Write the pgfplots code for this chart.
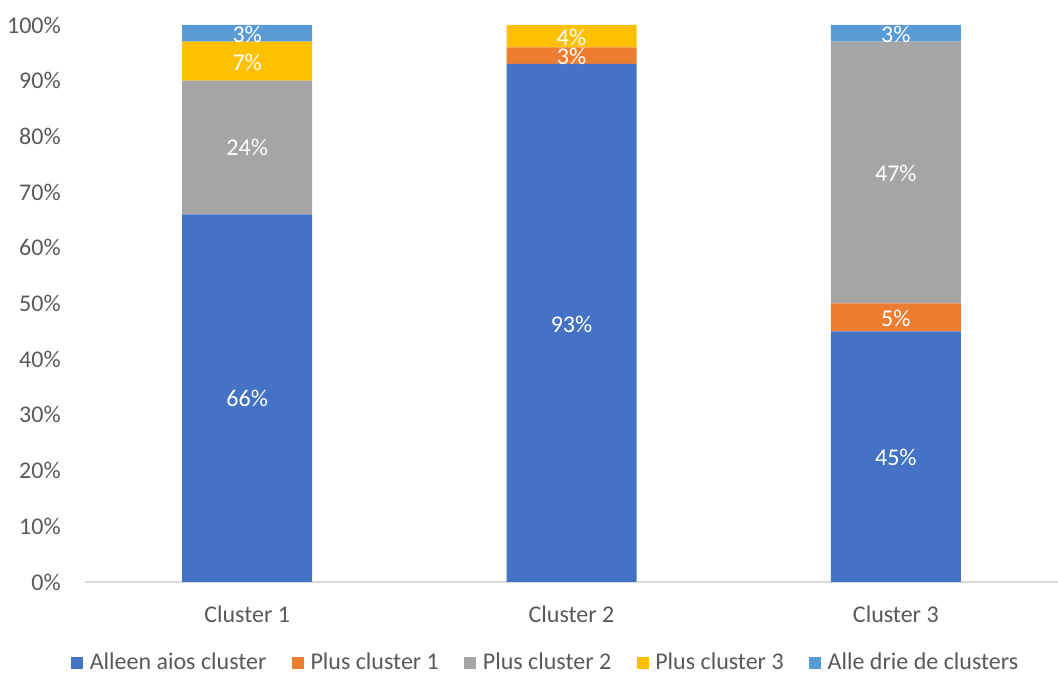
\documentclass[border=0pt]{standalone}
\usepackage{pgfplots}
\pgfplotsset{compat=1.18}
\usepackage{fontspec}
\setmainfont{Carlito}
\definecolor{cA}{HTML}{4472C4}
\definecolor{cB}{HTML}{ED7D31}
\definecolor{cC}{HTML}{A5A5A5}
\definecolor{cD}{HTML}{FFC000}
\definecolor{cE}{HTML}{5B9BD5}
\definecolor{tickgray}{HTML}{595959}
\definecolor{linegray}{HTML}{D9D9D9}
\begin{document}
\fontsize{18}{21}\selectfont
\begin{tikzpicture}
\pgfplotsset{common/.style={
  at={(0pt,0pt)}, anchor=south west,
  scale only axis, width=729.75pt, height=417.75pt,
  xmin=-0.5, xmax=2.5, ymin=0, ymax=100,
  /pgf/number format/assume math mode=true,
}}
\begin{axis}[common,
  ybar stacked, bar width=97.5pt,
  xtick={0,1,2}, xticklabels={Cluster 1,Cluster 2,Cluster 3},
  ytick={0,10,...,100}, yticklabel={\pgfmathprintnumber{\tick}\%},
  axis x line*=bottom, axis y line*=left,
  y axis line style={draw=none},
  x axis line style={draw=linegray, line width=0.8pt, -},
  major tick length=0pt,
  ticklabel style={font=\fontsize{18}{21}\selectfont, text=tickgray},
  xticklabel style={yshift=-12pt},
  yticklabel style={xshift=-12pt},
  legend style={at={(0.4738,-0.146)}, anchor=center, draw=none, fill=none,
    inner sep=1pt,
    font=\fontsize{18}{21}\selectfont, text=tickgray,
    legend columns=5,
    /tikz/every even column/.append style={column sep=17pt}},
  legend image code/.code={\fill[#1] (0pt,-4.5pt) rectangle (9pt,4.5pt); \path (0pt,0pt) -- (12pt,0pt);},
  legend cell align=left,
]
\addplot[fill=cA, draw=none] coordinates {(0,66) (1,93) (2,45)};
\addplot[fill=cB, draw=none] coordinates {(0,0) (1,3) (2,5)};
\addplot[fill=cC, draw=none] coordinates {(0,24) (1,0) (2,47)};
\addplot[fill=cD, draw=none] coordinates {(0,7) (1,4) (2,0)};
\addplot[fill=cE, draw=none] coordinates {(0,3) (1,0) (2,3)};
\legend{Alleen aios cluster, Plus cluster 1, Plus cluster 2, Plus cluster 3, Alle drie de clusters}
\end{axis}
\begin{axis}[common, hide axis]
\addplot[draw=none, mark=none, nodes near coords, point meta=explicit symbolic,
  every node near coord/.append style={anchor=center, text=white, font=\fontsize{18}{21}\selectfont}]
  coordinates {
  (0,33) [66\%] (0,78) [24\%] (0,93.3) [7\%] (0,98.3) [3\%]
  (1,46.3) [93\%] (1,94.3) [3\%] (1,97.8) [4\%]
  (2,22.3) [45\%] (2,47.3) [5\%] (2,73.3) [47\%] (2,98.3) [3\%]
  };
\end{axis}
\pgfresetboundingbox
\path (-63.75pt,-69.75pt) rectangle (729.75pt,436.5pt);
\end{tikzpicture}
\end{document}
